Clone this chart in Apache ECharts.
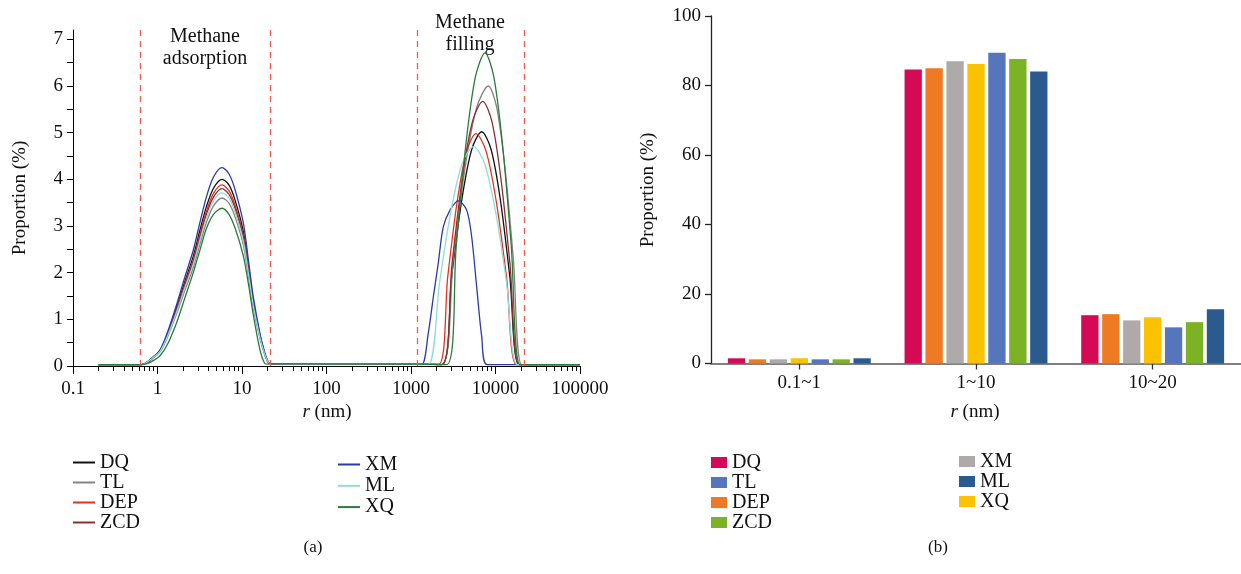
<!DOCTYPE html>
<html>
<head>
<meta charset="utf-8">
<script src="https://cdn.jsdelivr.net/npm/echarts@6/dist/echarts.min.js"></script>
<style>
html,body{margin:0;padding:0;background:#fff;}
#c{width:1241px;height:574px;}
</style>
</head>
<body>
<div id="c"></div>
<script>
// ---------- Panel (a): pore size distribution ----------
const seriesNames = ['DQ', 'TL', 'DEP', 'ZCD', 'XM', 'ML', 'XQ'];
const lineColors = ['#111111', '#8c8080', '#e8301e', '#8a3030', '#2a3aa8', '#8fdcdc', '#2a7a3a'];

// radius grid (nm) for the methane adsorption peak and flat middle part
const leftR = [0.2, 0.65, 0.75, 0.9, 1.07, 1.3, 1.7, 2.1, 2.65, 3.2, 3.8, 4.6, 5.8, 7.0, 8.3, 10.4, 12, 13.6, 16.3, 18.5, 20.4, 22, 100, 1000];
const leftDQ  = [0.03,0.03,0.08,0.2,0.33,0.67,1.27,1.8,2.35,2.93,3.42,3.81,4.0,3.88,3.55,2.87,2.09,1.39,0.66,0.28,0.08,0.05,0.04,0.04];
const leftTL  = [0.03,0.03,0.07,0.18,0.3,0.6,1.14,1.61,2.11,2.63,3.08,3.43,3.60,3.49,3.19,2.58,1.88,1.25,0.59,0.25,0.07,0.05,0.04,0.04];
const leftDEP = [0.03,0.03,0.08,0.2,0.33,0.66,1.24,1.75,2.28,2.84,3.32,3.70,3.88,3.76,3.44,2.78,2.03,1.35,0.64,0.27,0.08,0.05,0.04,0.04];
const leftZCD = [0.03,0.03,0.08,0.19,0.32,0.64,1.21,1.71,2.23,2.78,3.25,3.62,3.80,3.68,3.37,2.73,1.98,1.32,0.63,0.27,0.08,0.05,0.04,0.04];
const leftXM  = [0.03,0.03,0.08,0.2,0.34,0.7,1.34,1.9,2.48,3.1,3.63,4.05,4.25,4.12,3.77,3.05,2.22,1.48,0.70,0.3,0.09,0.05,0.04,0.04];
const leftML  = [0.03,0.03,0.08,0.19,0.31,0.62,1.18,1.67,2.18,2.71,3.17,3.54,3.71,3.60,3.29,2.66,1.94,1.29,0.61,0.26,0.08,0.05,0.04,0.04];
const leftXQ  = [0.03,0.03,0.05,0.12,0.22,0.45,0.95,1.45,2.0,2.5,2.95,3.25,3.38,3.25,2.95,2.35,1.72,1.1,0.35,0.06,0.04,0.05,0.04,0.04];

// methane filling peak (radius, proportion) per sample
const rightR_DQ  = [2307,3031,3981,5230,6871,8872,11443,14757,19055,30000,100000];
const rightV_DQ  = [0.03,1.92,3.55,4.64,5.02,4.64,3.55,1.92,0.03,0.03,0.03];
const rightR_TL  = [2307,3170,4355,5984,8222,10328,12960,16255,20417,30000,100000];
const rightV_TL  = [0.03,2.30,4.24,5.54,6.0,5.54,4.24,2.30,0.03,0.03,0.03];
const rightR_DEP = [2104,2720,3516,4545,5875,7745,10221,13490,17783,30000,100000];
const rightV_DEP = [0.03,1.91,3.52,4.60,4.98,4.60,3.52,1.91,0.03,0.03,0.03];
const rightR_ZCD = [2307,3052,4036,5341,7063,9057,11600,14859,19055,30000,100000];
const rightV_ZCD = [0.03,2.17,4.01,5.24,5.67,5.24,4.01,2.17,0.03,0.03,0.03];
const rightR_XM  = [1337,1600,1838,2100,2410,2897,3630,4560,5224,5984,6871,8000,30000,100000];
const rightV_XM  = [0.03,0.7,1.48,2.2,2.98,3.34,3.54,3.34,2.77,1.70,0.63,0.03,0.03,0.03];
const rightR_ML  = [1603,2183,2968,4036,5495,7413,10000,13490,18197,30000,100000];
const rightV_ML  = [0.03,1.80,3.32,4.34,4.7,4.34,3.32,1.80,0.03,0.03,0.03];
const rightR_XQ  = [2642,3432,4457,5787,7516,9539,12106,15367,19498,30000,100000];
const rightV_XQ  = [0.03,2.57,4.74,6.20,6.71,6.20,4.74,2.57,0.03,0.03,0.03];

const dividerR = [0.63, 21.4, 1180, 21700];
const xMajorTicks = [0.1, 1, 10, 100, 1000, 10000, 100000];
const xMinorTicks = [0.2,0.3,0.4,0.5,0.6,0.7,0.8,0.9,2,3,4,5,6,7,8,9,20,30,40,50,60,70,80,90,200,300,400,500,600,700,800,900,2000,3000,4000,5000,6000,7000,8000,9000,20000,30000,40000,50000,60000,70000,80000,90000];
const yLeftTicks = [0,1,2,3,4,5,6,7];
const yLeftMinor = [0,0.5,1,1.5,2,2.5,3,3.5,4,4.5,5,5.5,6,6.5,7];

// ---------- Panel (b): bar chart ----------
const categories = ['0.1~1', '1~10', '10~20'];
const barOrder = ['DQ', 'DEP', 'XM', 'XQ', 'TL', 'ZCD', 'ML'];
const barColors = ['#d40b54', '#ee7a23', '#adaaa9', '#fac200', '#5575bc', '#7bb324', '#2b5b8e'];
const barDQ  = [1.5, 84.6, 13.9];
const barDEP = [1.2, 85.0, 14.2];
const barXM  = [1.2, 87.0, 12.4];
const barXQ  = [1.5, 86.2, 13.3];
const barTL  = [1.2, 89.4, 10.4];
const barZCD = [1.2, 87.6, 11.9];
const barML  = [1.5, 84.0, 15.6];

const leftVals = {DQ: leftDQ, TL: leftTL, DEP: leftDEP, ZCD: leftZCD, XM: leftXM, ML: leftML, XQ: leftXQ};
const rightRs = {DQ: rightR_DQ, TL: rightR_TL, DEP: rightR_DEP, ZCD: rightR_ZCD, XM: rightR_XM, ML: rightR_ML, XQ: rightR_XQ};
const rightVs = {DQ: rightV_DQ, TL: rightV_TL, DEP: rightV_DEP, ZCD: rightV_ZCD, XM: rightV_XM, ML: rightV_ML, XQ: rightV_XQ};
const barVals = {DQ: barDQ, DEP: barDEP, XM: barXM, XQ: barXQ, TL: barTL, ZCD: barZCD, ML: barML};

const FONT = '"Liberation Serif", "DejaVu Serif", serif';

function pairs(rs, vs) { return rs.map((r, i) => [r, vs[i]]); }

const lineSeries = seriesNames.map((n, i) => ({
  name: n,
  type: 'line',
  xAxisIndex: 0,
  yAxisIndex: 0,
  symbol: 'none',
  smooth: 0.3,
  color: lineColors[i],
  lineStyle: {width: 1.3, color: lineColors[i]},
  itemStyle: {color: lineColors[i]},
  data: pairs(leftR, leftVals[n]).concat(pairs(rightRs[n], rightVs[n])),
  z: 3
}));

lineSeries.push({
  name: '_div',
  type: 'line',
  xAxisIndex: 0, yAxisIndex: 0,
  data: [],
  markLine: {
    silent: true, symbol: 'none', label: {show: false},
    lineStyle: {color: '#f05a50', type: [6, 5], width: 1.3},
    data: dividerR.map(v => ({xAxis: v}))
  }
});

const barSeries = barOrder.map((n, i) => ({
  name: 'b:' + n,
  type: 'bar',
  xAxisIndex: 2,
  yAxisIndex: 1,
  barWidth: 17.3,
  barGap: '21%',
  itemStyle: {color: barColors[i]},
  data: barVals[n]
}));

function legendText(lh) { return {fontFamily: FONT, fontSize: 20, color: '#111', lineHeight: lh}; }

const option = {
  animation: false,
  backgroundColor: '#fff',
  textStyle: {fontFamily: FONT},
  grid: [
    {left: 73, top: 30, width: 507, height: 336},
    {left: 711, top: 16, width: 540, height: 347.5}
  ],
  xAxis: [
    {
      type: 'log', gridIndex: 0, min: 0.1, max: 100000, logBase: 10,
      axisLine: {lineStyle: {color: '#000', width: 1}},
      axisTick: {show: true, inside: false, length: 8, lineStyle: {color: '#000'}, customValues: xMajorTicks},
      axisLabel: {color: '#111', fontSize: 19, fontFamily: FONT, margin: 14, customValues: xMajorTicks,
        formatter: v => (v < 1 ? v.toFixed(1) : String(Math.round(v)))},
      splitLine: {show: false}
    },
    {
      type: 'log', gridIndex: 0, min: 0.1, max: 100000, logBase: 10, position: 'bottom',
      axisLine: {show: false},
      axisTick: {show: true, length: 5, lineStyle: {color: '#000'}, customValues: xMinorTicks},
      axisLabel: {show: false},
      splitLine: {show: false}
    },
    {
      type: 'category', gridIndex: 1, data: categories,
      axisLine: {lineStyle: {color: '#555', width: 1.6}},
      axisTick: {show: true, alignWithLabel: true, length: 6, lineStyle: {color: '#333', width: 1.3}},
      axisLabel: {color: '#111', fontSize: 19, fontFamily: FONT, margin: 10},
      splitLine: {show: false}
    }
  ],
  yAxis: [
    {
      type: 'value', gridIndex: 0, min: 0, max: 7.2,
      axisLine: {show: true, lineStyle: {color: '#000', width: 1}},
      axisTick: {show: true, length: 6, lineStyle: {color: '#000'}, customValues: yLeftMinor},
      axisLabel: {color: '#111', fontSize: 19, fontFamily: FONT, margin: 10, customValues: yLeftTicks},
      splitLine: {show: false}
    },
    {
      type: 'value', gridIndex: 1, min: 0, max: 100, interval: 20,
      axisLine: {show: true, lineStyle: {color: '#222', width: 1.3}},
      axisTick: {show: true, length: 6, lineStyle: {color: '#222', width: 1.3}},
      axisLabel: {color: '#111', fontSize: 19, fontFamily: FONT, margin: 10},
      splitLine: {show: false}
    }
  ],
  legend: [
    {
      data: ['DQ', 'TL', 'DEP', 'ZCD'], orient: 'vertical', left: 73, top: 452.5, padding: 0,
      itemWidth: 22, itemHeight: 2, icon: 'rect', itemGap: 0, textStyle: legendText(17.9)
    },
    {
      data: ['XM', 'ML', 'XQ'], orient: 'vertical', left: 338, top: 454.5, padding: 0,
      itemWidth: 22, itemHeight: 2, icon: 'rect', itemGap: 1.3, textStyle: legendText(17.9)
    },
    {
      data: ['b:DQ', 'b:TL', 'b:DEP', 'b:ZCD'], orient: 'vertical', left: 711, top: 452.5, padding: 0,
      itemWidth: 16, itemHeight: 11, icon: 'rect', itemGap: 0, textStyle: legendText(17.7),
      formatter: n => n.replace('b:', '')
    },
    {
      data: ['b:XM', 'b:ML', 'b:XQ'], orient: 'vertical', left: 959, top: 451.5, padding: 0,
      itemWidth: 16, itemHeight: 11, icon: 'rect', itemGap: 0, textStyle: legendText(17.4),
      formatter: n => n.replace('b:', '')
    }
  ],
  graphic: [
    {type: 'text', x: 205, y: 26, style: {text: 'Methane\nadsorption', fontFamily: FONT, fontSize: 20, lineHeight: 22, textAlign: 'center', fill: '#111'}},
    {type: 'text', x: 470, y: 12, style: {text: 'Methane\nfilling', fontFamily: FONT, fontSize: 20, lineHeight: 22, textAlign: 'center', fill: '#111'}},
    {type: 'text', x: 20, y: 198, rotation: Math.PI / 2, style: {text: 'Proportion (%)', fontFamily: FONT, fontSize: 19, textAlign: 'center', textVerticalAlign: 'middle', fill: '#111'}},
    {type: 'text', x: 648, y: 190, rotation: Math.PI / 2, style: {text: 'Proportion (%)', fontFamily: FONT, fontSize: 19, textAlign: 'center', textVerticalAlign: 'middle', fill: '#111'}},
    {type: 'text', x: 327, y: 412, style: {text: '{i|r} (nm)', fontFamily: FONT, fontSize: 19, textAlign: 'center', textVerticalAlign: 'middle', fill: '#111',
      rich: {i: {fontStyle: 'italic', fontFamily: FONT, fontSize: 19, fill: '#111'}}}},
    {type: 'text', x: 975, y: 412, style: {text: '{i|r} (nm)', fontFamily: FONT, fontSize: 19, textAlign: 'center', textVerticalAlign: 'middle', fill: '#111',
      rich: {i: {fontStyle: 'italic', fontFamily: FONT, fontSize: 19, fill: '#111'}}}},
    {type: 'text', x: 313, y: 548, style: {text: '(a)', fontFamily: FONT, fontSize: 17, textAlign: 'center', textVerticalAlign: 'middle', fill: '#111'}},
    {type: 'text', x: 938, y: 548, style: {text: '(b)', fontFamily: FONT, fontSize: 17, textAlign: 'center', textVerticalAlign: 'middle', fill: '#111'}}
  ],
  series: lineSeries.concat(barSeries)
};

const chart = echarts.init(document.getElementById('c'), null, {renderer: 'canvas'});
chart.setOption(option);
</script>
</body>
</html>
